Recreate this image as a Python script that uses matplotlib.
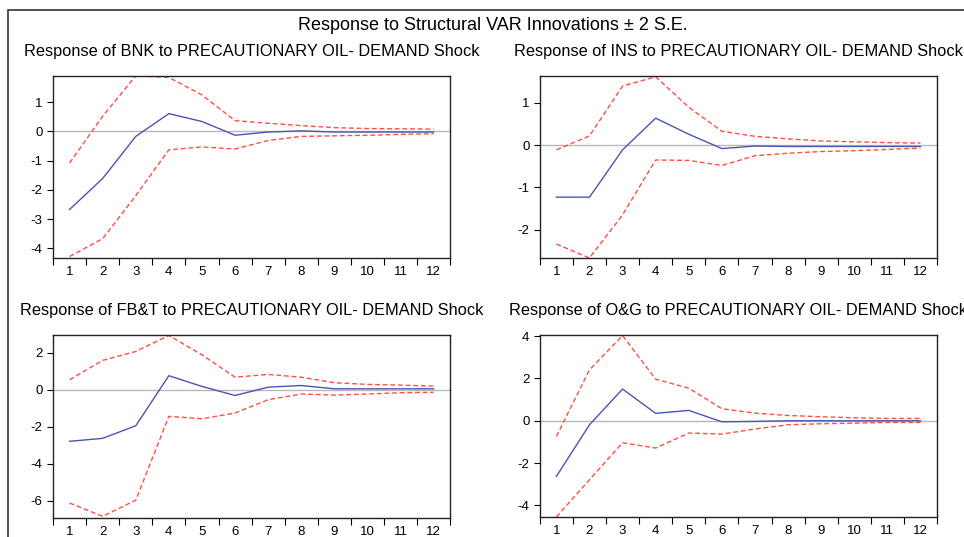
import matplotlib
matplotlib.use('Agg')
import matplotlib.pyplot as plt
from matplotlib.patches import Rectangle
import numpy as np

plt.rcParams['font.family'] = ['Liberation Sans', 'DejaVu Sans']

periods = list(range(1, 13))

# BNK
bnk_resp = [-2.67, -1.61, -0.17, 0.61, 0.34, -0.13, -0.02, 0.02, -0.02, -0.02, -0.02, -0.02]
bnk_upper = [-1.08, 0.52, 1.90, 1.85, 1.25, 0.37, 0.28, 0.20, 0.13, 0.10, 0.09, 0.08]
bnk_lower = [-4.28, -3.67, -2.20, -0.63, -0.53, -0.60, -0.31, -0.17, -0.15, -0.13, -0.10, -0.08]

# INS
ins_resp = [-1.23, -1.23, -0.11, 0.64, 0.26, -0.08, -0.02, -0.03, -0.03, -0.03, -0.03, -0.03]
ins_upper = [-0.11, 0.22, 1.40, 1.62, 0.90, 0.33, 0.21, 0.15, 0.10, 0.08, 0.06, 0.05]
ins_lower = [-2.34, -2.67, -1.65, -0.35, -0.36, -0.48, -0.25, -0.19, -0.15, -0.13, -0.10, -0.07]

# FB&T
fbt_resp = [-2.79, -2.63, -1.95, 0.76, 0.18, -0.31, 0.14, 0.23, 0.05, 0.05, 0.05, 0.05]
fbt_upper = [0.54, 1.59, 2.07, 2.94, 1.89, 0.68, 0.83, 0.68, 0.38, 0.29, 0.25, 0.20]
fbt_lower = [-6.13, -6.85, -5.98, -1.44, -1.57, -1.26, -0.54, -0.23, -0.29, -0.23, -0.16, -0.14]

# O&G
og_resp = [-2.63, -0.19, 1.50, 0.35, 0.49, -0.05, -0.03, 0.0, 0.0, 0.0, 0.0, 0.0]
og_upper = [-0.74, 2.41, 4.03, 1.97, 1.54, 0.57, 0.36, 0.25, 0.19, 0.14, 0.11, 0.11]
og_lower = [-4.55, -2.79, -1.04, -1.29, -0.58, -0.63, -0.39, -0.19, -0.14, -0.11, -0.08, -0.08]

panels = [
    ('BNK', bnk_resp, bnk_upper, bnk_lower, (-4.33, 1.9), [-4, -3, -2, -1, 0, 1]),
    ('INS', ins_resp, ins_upper, ins_lower, (-2.67, 1.64), [-2, -1, 0, 1]),
    ('FB&T', fbt_resp, fbt_upper, fbt_lower, (-6.94, 2.97), [-6, -4, -2, 0, 2]),
    ('O&G', og_resp, og_upper, og_lower, (-4.55, 4.06), [-4, -2, 0, 2, 4]),
]

positions = [
    [0.055, 0.5196, 0.412, 0.339],
    [0.560, 0.5196, 0.412, 0.339],
    [0.055, 0.0354, 0.412, 0.341],
    [0.560, 0.0373, 0.412, 0.339],
]
title_y = [0.905, 0.905, 0.421, 0.421]

fig = plt.figure(figsize=(9.64, 5.37), dpi=100)

# outer frame
fig.add_artist(Rectangle((8 / 964, -0.1), 1.2, 1 - 10 / 537 + 0.1,
                         transform=fig.transFigure, fill=False,
                         edgecolor='#333333', linewidth=1.2))

fig.text(0.511, 0.952, 'Response to Structural VAR Innovations \u00b1 2 S.E.',
         ha='center', va='center', fontsize=13)

for (name, resp, up, lo, ylim, yticks), pos, ty in zip(panels, positions, title_y):
    ax = fig.add_axes(pos)
    ax.axhline(0, color='#b8b8b8', lw=1.0, zorder=1)
    ax.plot(periods, up, color='#ff4f45', lw=1.0, ls=(0, (3.5, 2)), zorder=2)
    ax.plot(periods, lo, color='#ff4f45', lw=1.0, ls=(0, (3.5, 2)), zorder=2)
    ax.plot(periods, resp, color='#4a55b0', lw=1.0, zorder=3)
    ax.set_xlim(0.5, 12.5)
    ax.set_ylim(*ylim)
    ax.set_xticks(np.arange(0.5, 13, 1))
    ax.set_xticklabels([])
    ax.set_xticks(periods, minor=True)
    ax.set_xticklabels([str(p) for p in periods], minor=True, fontsize=9.5)
    ax.tick_params(axis='x', which='minor', length=0, pad=6)
    ax.tick_params(axis='x', which='major', direction='out', length=5)
    ax.set_yticks(yticks)
    ax.set_yticklabels([str(t) for t in yticks], fontsize=9.5)
    ax.tick_params(axis='y', direction='out', length=4)
    for s in ax.spines.values():
        s.set_linewidth(1.0)
        s.set_color('#222222')
    cx = pos[0] + pos[2] / 2
    fig.text(cx, ty, 'Response of %s to PRECAUTIONARY OIL- DEMAND Shock' % name,
             ha='center', va='center', fontsize=11.8)

fig.savefig('out.png', dpi=100)
